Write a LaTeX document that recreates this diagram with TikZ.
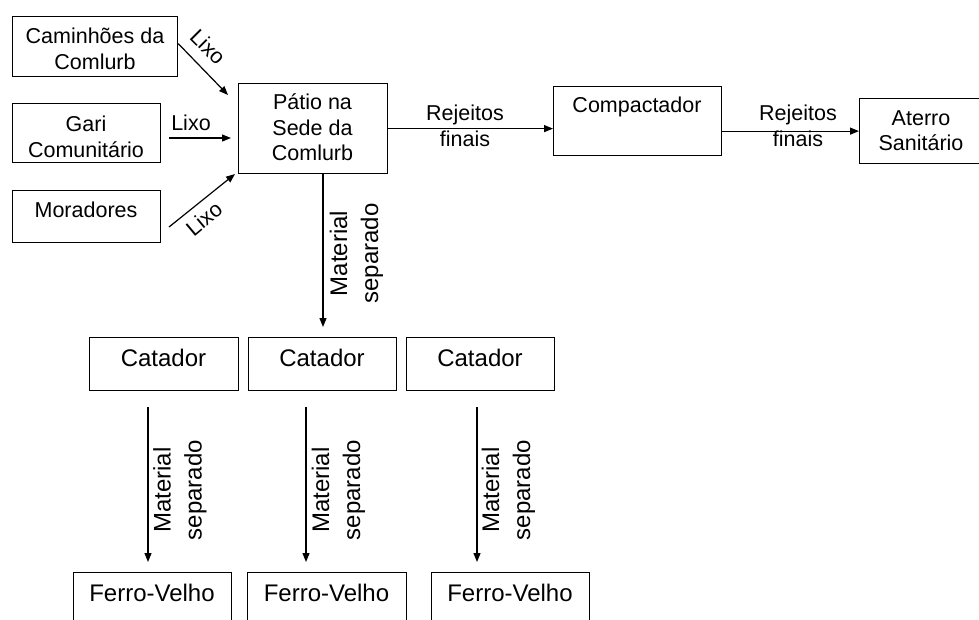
\documentclass[tikz,border=0pt]{standalone}
\usepackage{fontspec}
\setmainfont{Liberation Sans}
\usetikzlibrary{arrows.meta}
\tikzset{
  box/.style={draw, line width=1.2pt, inner sep=0pt, anchor=north west},
  txt/.style={font=\fontsize{21.5}{25.5}\selectfont, align=center, inner sep=0pt, anchor=base},
  bigtxt/.style={font=\fontsize{24}{31}\selectfont, align=center, inner sep=0pt, anchor=base},
  arr/.style={line width=1.2pt, -{Triangle[length=9pt,width=7pt]}},
}
\begin{document}
\begin{tikzpicture}[x=1pt,y=-1pt]
\useasboundingbox (0,0) rectangle (979,619);
% boxes
\node[box, minimum width=165pt, minimum height=60pt] (cam) at (12,16) {};
\node[box, minimum width=148pt, minimum height=59pt] (gari) at (12,103) {};
\node[box, minimum width=148pt, minimum height=52pt] (mor) at (12,190) {};
\node[box, minimum width=149pt, minimum height=90pt] (patio) at (238,83) {};
\node[box, minimum width=168pt, minimum height=69pt] (comp) at (553,86) {};
\node[box, minimum width=124pt, minimum height=65pt] (aterro) at (859,98) {};
\node[box, minimum width=149pt, minimum height=53pt] (cat1) at (89,337) {};
\node[box, minimum width=148pt, minimum height=53pt] (cat2) at (248,337) {};
\node[box, minimum width=148pt, minimum height=53pt] (cat3) at (406,337) {};
\node[box, minimum width=158pt, minimum height=70pt] (fv1) at (73,572) {};
\node[box, minimum width=159pt, minimum height=70pt] (fv2) at (247,572) {};
\node[box, minimum width=158pt, minimum height=70pt] (fv3) at (431,572) {};
% box texts (anchor=base is the baseline of the last line)
\node[txt] (tcam) at (95,69) {Caminhões da\\Comlurb};
\node[txt] (tgari) at (86,157) {Gari\\Comunitário};
\node[txt] (tmor) at (86,217) {Moradores};
\node[txt] (tpatio) at (312.5,160.7) {Pátio na\\Sede da\\Comlurb};
\node[txt] (tcomp) at (637,112.7) {Compactador};
\node[txt] (taterro) at (921,150.7) {Aterro\\Sanitário};
\node[bigtxt] (tcat1) at (163.5,366.7) {Catador};
\node[bigtxt] (tcat2) at (322,366.7) {Catador};
\node[bigtxt] (tcat3) at (480,366.7) {Catador};
\node[bigtxt] (tfv1) at (152,601.7) {Ferro-Velho};
\node[bigtxt] (tfv2) at (326.5,601.7) {Ferro-Velho};
\node[bigtxt] (tfv3) at (510,601.7) {Ferro-Velho};
% free ends of connectors
\coordinate (l1e) at (228,95);
\coordinate (l2s) at (169,138);
\coordinate (l2e) at (231,138);
\coordinate (l3s) at (169,227);
\coordinate (l3e) at (235,174);
\coordinate (m0) at (323,327);
\coordinate (a1s) at (148,407);
\coordinate (a1e) at (148,562);
\coordinate (a2s) at (306,407);
\coordinate (a2e) at (306,562);
\coordinate (a3s) at (477,407);
\coordinate (a3e) at (477,562);
% connectors
\draw[arr] ([yshift=3pt]cam.east) -- (l1e);
\draw[arr] (l2s) -- (l2e);
\draw[arr] (l3s) -- (l3e);
\draw[arr] (patio.east) -- (patio.east -| comp.west);
\draw[arr] (aterro.west -| comp.east) -- (aterro.west);
\draw[arr] (m0 |- patio.south) -- (m0);
\draw[arr] (a1s) -- (a1e);
\draw[arr] (a2s) -- (a2e);
\draw[arr] (a3s) -- (a3e);
% connector labels
\node[txt, anchor=center, rotate=-45] (lx1) at (208,47) {Lixo};
\node[txt] (lx2) at (191,130) {Lixo};
\node[txt, anchor=center, rotate=40] (lx3) at (204,219) {Lixo};
\node[txt] (rj1) at (465,146) {Rejeitos\\finais};
\node[txt] (rj2) at (798,146) {Rejeitos\\finais};
\node[bigtxt, rotate=90] (ms0) at (378,253.5) {Material\\separado};
\node[bigtxt, rotate=90] (ms1) at (201.7,490) {Material\\separado};
\node[bigtxt, rotate=90] (ms2) at (360,490) {Material\\separado};
\node[bigtxt, rotate=90] (ms3) at (530,490) {Material\\separado};
\end{tikzpicture}
\end{document}
